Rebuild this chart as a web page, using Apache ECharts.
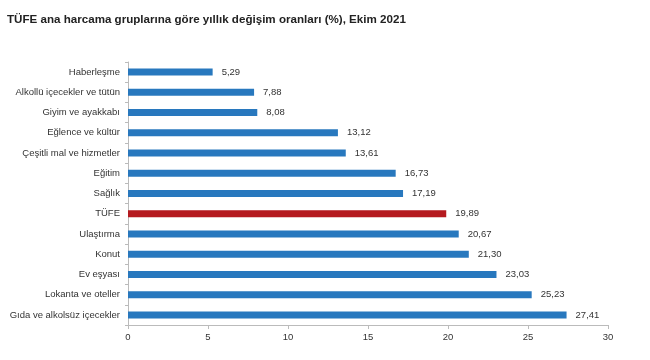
<!DOCTYPE html>
<html><head><meta charset="utf-8">
<script src="https://cdn.jsdelivr.net/npm/echarts@6/dist/echarts.min.js"></script>
<style>html,body{margin:0;padding:0;background:#fff}#c{width:650px;height:360px}</style>
</head><body><div id="c"></div>
<script>
const categories = ["Haberleşme","Alkollü içecekler ve tütün","Giyim ve ayakkabı","Eğlence ve kültür","Çeşitli mal ve hizmetler","Eğitim","Sağlık","TÜFE","Ulaştırma","Konut","Ev eşyası","Lokanta ve oteller","Gıda ve alkolsüz içecekler"];
const values = [5.29,7.88,8.08,13.12,13.61,16.73,17.19,19.89,20.67,21.30,23.03,25.23,27.41];
const highlight = "TÜFE";
const xTicks = [0,5,10,15,20,25,30];
const title = "TÜFE ana harcama gruplarına göre yıllık değişim oranları (%), Ekim 2021";

const F = "'Liberation Sans',Arial,sans-serif";
const chart = echarts.init(document.getElementById('c'), null, {renderer:'canvas'});
chart.setOption({
  animation:false,
  backgroundColor:'#fff',
  title:{text:title,left:2,top:9,textStyle:{fontFamily:F,fontSize:11.6,fontWeight:'bold',color:'#222'}},
  grid:{left:128,right:42,top:62,bottom:35,containLabel:false},
  xAxis:{type:'value',min:xTicks[0],max:xTicks[xTicks.length-1],interval:5,
    axisLine:{show:true,lineStyle:{color:'#bbb'}},
    axisTick:{show:true,length:4,lineStyle:{color:'#bbb'}},
    splitLine:{show:false},
    axisLabel:{color:'#333',fontFamily:F,fontSize:9.5,margin:7}},
  yAxis:{type:'category',data:categories,inverse:true,
    axisLine:{show:true,lineStyle:{color:'#bbb'}},
    axisTick:{show:true,length:3,lineStyle:{color:'#bbb'}},
    axisLabel:{color:'#333',fontFamily:F,fontSize:9.5,margin:8}},
  series:[{type:'bar',barWidth:7,
    data:values.map((v,i)=>({value:v,itemStyle:{color:categories[i]===highlight?'#b51a1f':'#2878be'}})),
    label:{show:true,position:'right',distance:9,color:'#333',fontFamily:F,fontSize:9.5,
      formatter:p=>p.value.toFixed(2).replace('.',',')}}]
});
</script></body></html>
